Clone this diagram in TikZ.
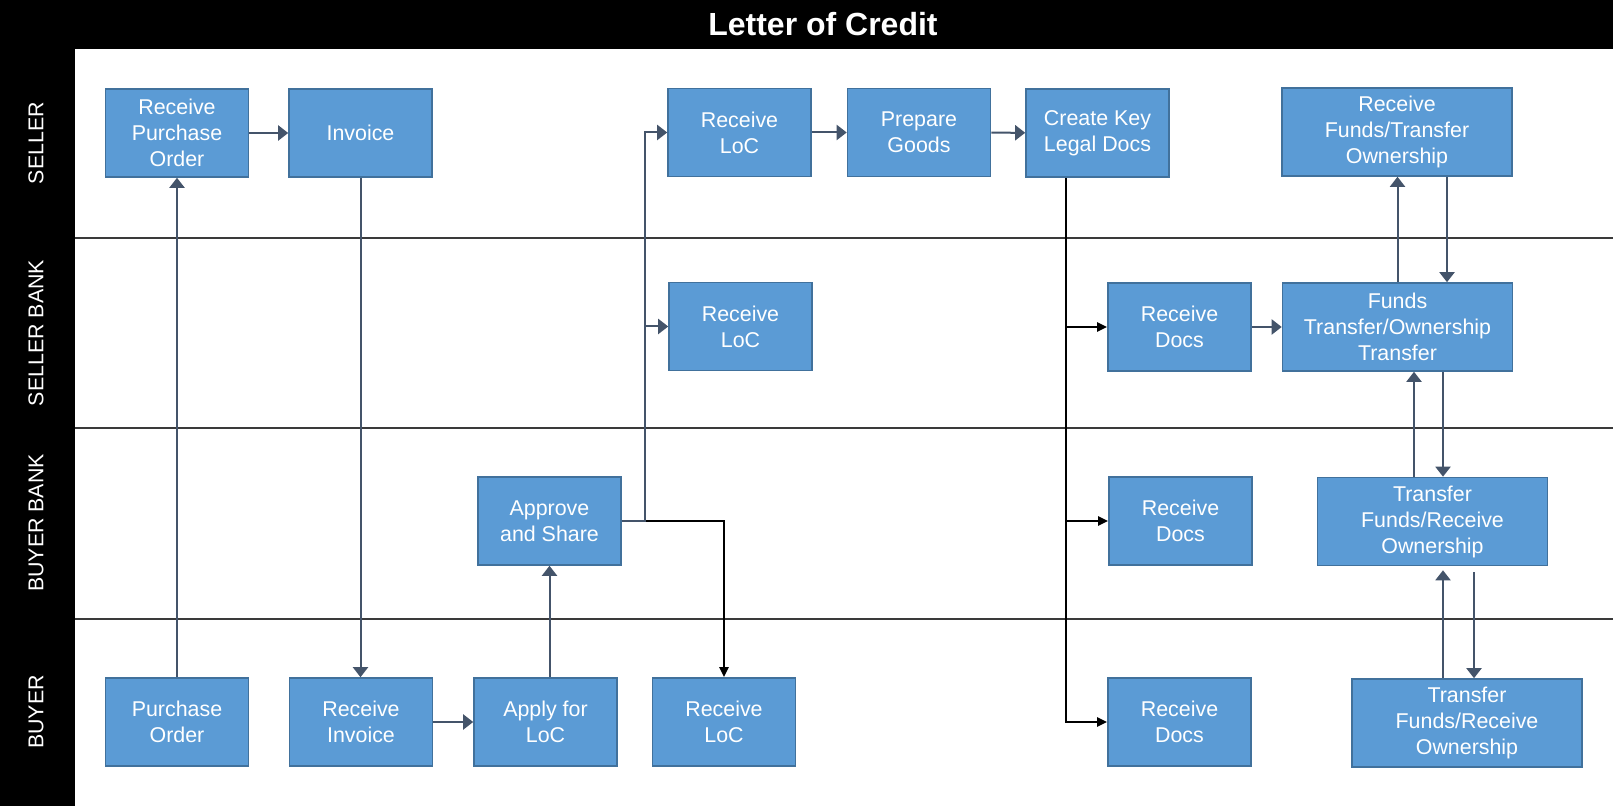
\documentclass[tikz,border=0pt]{standalone}
\usepackage{fontspec}
\setmainfont{Liberation Sans}
\usetikzlibrary{arrows.meta,calc}
\definecolor{boxfill}{HTML}{5B9BD5}
\definecolor{boxline}{HTML}{41719C}
\definecolor{slate}{HTML}{44546A}
\definecolor{lanecol}{HTML}{3A3A3A}
\tikzset{
 box/.style={draw=boxline, line width=0.8pt, fill=boxfill, text=white, align=center,
   minimum width=71.5pt, minimum height=44pt, inner sep=1pt, font=\fontsize{10.7}{13}\selectfont},
 widebox/.style={box, minimum width=115pt},
 flow/.style={draw=slate, line width=1pt, -{Triangle[length=5pt,width=7.5pt]}},
 blackflow/.style={draw=black, line width=1.2pt, -{Triangle[length=5pt,width=4.5pt]}},
 laneline/.style={draw=lanecol, line width=0.8pt},
 lanelabel/.style={text=white, rotate=90, font=\fontsize{10.7}{13}\selectfont},
}
\begin{document}
\begin{tikzpicture}[x=0.5pt,y=-0.5pt]
\useasboundingbox (0,0) rectangle (1613,806);
\fill[black] (0,0) rectangle (1613,49);
\fill[black] (0,0) rectangle (75,806);
\fill[white] (75,49) rectangle (1613,806);
\node[text=white, font=\fontsize{16}{19}\bfseries] (title) at (823,24) {Letter of Credit};
% lanes
\draw[laneline] (75,238) -- (1613,238);
\draw[laneline] (75,428) -- (1613,428);
\draw[laneline] (75,619) -- (1613,619);
\node[lanelabel] (l1) at (36,143) {SELLER};
\node[lanelabel] (l2) at (36,333) {SELLER BANK};
\node[lanelabel] (l3) at (36,523) {BUYER BANK};
\node[lanelabel] (l4) at (36,712) {BUYER};
% boxes
\node[box] (rpo) at (177,133) {Receive\\Purchase\\Order};
\node[box] (inv) at (360.5,133) {Invoice};
\node[box] (rlocS) at (739.5,132.5) {Receive\\LoC};
\node[box] (prep) at (919,132.5) {Prepare\\Goods};
\node[box] (ckey) at (1097.5,133) {Create Key\\Legal Docs};
\node[widebox] (rfund) at (1397,132) {Receive\\Funds/Transfer\\Ownership};
\node[box] (rlocSB) at (740.5,326.5) {Receive\\LoC};
\node[box] (rdocSB) at (1179.5,327) {Receive\\Docs};
\node[widebox] (fund) at (1397.5,327) {Funds\\Transfer/Ownership\\Transfer};
\node[box] (approve) at (549.5,521) {Approve\\and Share};
\node[box] (rdocBB) at (1180.5,521) {Receive\\Docs};
\node[widebox] (tfBB) at (1432.5,521.5) {Transfer\\Funds/Receive\\Ownership};
\node[box] (po) at (177,722) {Purchase\\Order};
\node[box] (rinv) at (361,722) {Receive\\Invoice};
\node[box] (apply) at (545.5,722) {Apply for\\LoC};
\node[box] (rlocB) at (724,722) {Receive\\LoC};
\node[box] (rdocB) at (1179.5,722) {Receive\\Docs};
\node[widebox] (tfB) at (1467,723) {Transfer\\Funds/Receive\\Ownership};
% connectors
\draw[flow] (po) -- (rpo);
\draw[flow] (rpo) -- (inv);
\draw[flow] (inv.south) -- (inv.south |- rinv.north);
\draw[flow] (rinv) -- (apply);
\draw[flow] (apply.north -| approve.south) -- (approve.south);
\coordinate (j1) at ($(approve.east)+(23,0)$);
\draw[blackflow] (approve.east) -- (approve.east -| rlocB.north) -- (rlocB.north);
\draw[flow] (approve.east) -- (j1) |- (rlocS.west);
\draw[flow] (j1 |- rlocSB.west) -- (rlocSB.west);
\draw[flow] (rlocS) -- (prep);
\draw[flow] (prep) -- (ckey);
\coordinate (k) at ($(ckey.south)+(-31.5,0)$);
\draw[blackflow] (k) |- (rdocB.west);
\draw[blackflow] (k |- rdocSB.west) -- (rdocSB.west);
\draw[blackflow] (k |- rdocBB.west) -- (rdocBB.west);
\draw[flow] (rdocSB) -- (fund);
\draw[flow] (fund.north) -- (fund.north |- rfund.south);
\coordinate (a1) at ([xshift=25pt]rfund.south);
\draw[flow] (a1) -- (a1 |- fund.north);
\coordinate (a2) at ([xshift=-9.25pt]tfBB.north);
\draw[flow] (a2) -- (a2 |- fund.south);
\coordinate (a3) at ([xshift=22.75pt]fund.south);
\draw[flow] (a3) -- (a3 |- tfBB.north);
\coordinate (a4) at ([xshift=-12pt]tfB.north);
\draw[flow, shorten >=2pt] (a4) -- (a4 |- tfBB.south);
\coordinate (a5) at ([xshift=3.5pt]tfB.north);
\draw[flow, shorten <=3pt] (a5 |- tfBB.south) -- (a5);
\end{tikzpicture}
\end{document}
